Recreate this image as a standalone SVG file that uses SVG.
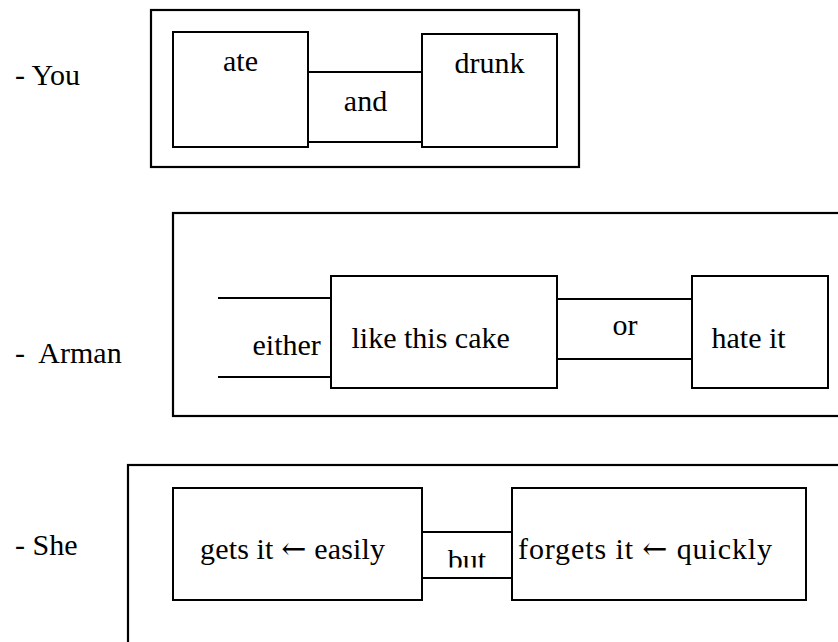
<svg xmlns="http://www.w3.org/2000/svg" width="838" height="642" viewBox="0 0 838 642">
  <style>
    .frame { fill: none; stroke: #000; stroke-width: 2.2; }
    .box { fill: #fff; stroke: #000; stroke-width: 2; }
    .link { fill: none; stroke: #000; stroke-width: 2; }
    text { font-size: 30px; fill: #000; white-space: pre; }
    .mid { text-anchor: middle; }
  </style>
  <defs>
    <clipPath id="butClip">
      <rect x="423" y="533" width="88" height="34.5"/>
    </clipPath>
  </defs>
  <rect width="838" height="642" fill="#fff"/>

  <!-- subject labels -->
  <g id="labels">
    <text x="15" y="85" font-family="Liberation Serif, serif">- You</text>
    <text x="15" y="363" font-family="Liberation Serif, serif">-  Arman</text>
    <text x="15" y="555" font-family="Liberation Serif, serif">- She</text>
  </g>

  <!-- sentence frames -->
  <g id="frames">
    <rect id="frame-you" class="frame" x="151" y="10" width="428" height="157"/>
    <rect id="frame-arman" class="frame" x="173" y="213" width="700" height="203"/>
    <rect id="frame-she" class="frame" x="128" y="465" width="750" height="220"/>
  </g>

  <!-- conjunction connectors -->
  <g id="connectors">
    <path class="link" d="M308 72 H422 M308 142 H422"/>
    <path class="link" d="M218 298 H331 M218 377 H331"/>
    <path class="link" d="M557 299 H692 M557 359 H692"/>
    <path class="link" d="M422 532 H512 M422 578 H512"/>
  </g>
  <g id="conjunctions">
    <text class="mid" x="365.5" y="110.5" font-family="Liberation Serif, serif">and</text>
    <text x="252.5" y="355" font-family="Liberation Serif, serif">either</text>
    <text class="mid" x="625" y="335" font-family="Liberation Serif, serif">or</text>
    <text class="mid" x="467" y="570" clip-path="url(#butClip)" font-family="Liberation Serif, serif">but</text>
  </g>

  <!-- clause boxes -->
  <g id="node-ate">
    <rect class="box" x="173" y="32" width="135" height="115"/>
    <text class="mid" x="240.5" y="71" font-family="Liberation Serif, serif">ate</text>
  </g>
  <g id="node-drunk">
    <rect class="box" x="422" y="34" width="135" height="113"/>
    <text class="mid" x="489.5" y="72.5" font-family="Liberation Serif, serif">drunk</text>
  </g>
  <g id="node-like">
    <rect class="box" x="331" y="276" width="226" height="112"/>
    <text x="351.5" y="347.5" font-family="Liberation Serif, serif">like this cake</text>
  </g>
  <g id="node-hate">
    <rect class="box" x="692" y="276" width="136" height="112"/>
    <text x="711.5" y="347.5" font-family="Liberation Serif, serif">hate it</text>
  </g>
  <g id="node-gets">
    <rect class="box" x="173" y="488" width="249" height="112"/>
    <text x="200" y="559" textLength="185" font-family="Liberation Serif, serif">gets it <tspan font-family="DejaVu Serif, serif">←</tspan> easily</text>
  </g>
  <g id="node-forgets">
    <rect class="box" x="512" y="488" width="294" height="112"/>
    <text x="518" y="559" textLength="254" font-family="Liberation Serif, serif">forgets it <tspan font-family="DejaVu Serif, serif">←</tspan> quickly</text>
  </g>
</svg>
